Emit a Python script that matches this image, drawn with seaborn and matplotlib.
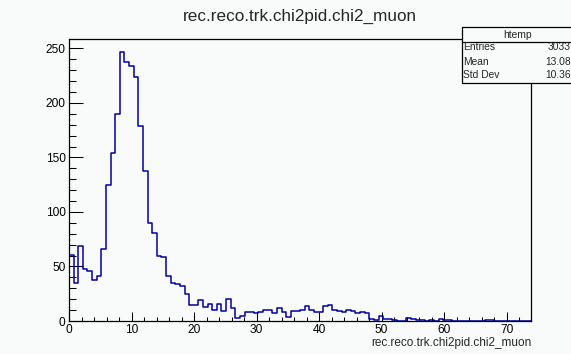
import numpy as np
import pandas as pd
import matplotlib
matplotlib.use("Agg")
import matplotlib.pyplot as plt
import seaborn as sns
from matplotlib.patches import Rectangle
from matplotlib.ticker import MultipleLocator

# ---- data (100 bins on [0, 73.9]) ----
x_low = 0.0
x_high = 73.9
n_bins = 100
counts = [
    61, 35, 69, 48, 46, 38, 41, 66, 125, 154,
    190, 247, 238, 234, 224, 179, 138, 90, 81, 60,
    59, 41, 35, 34, 32, 25, 15, 15, 19, 13,
    16, 10, 16, 9, 20, 12, 3, 5, 8, 8,
    7, 8, 10, 10, 7, 12, 8, 4, 9, 9,
    10, 14, 10, 8, 8, 14, 15, 10, 9, 8,
    10, 9, 7, 8, 7, 2, 1, 5, 2, 2,
    1, 0, 0, 3, 2, 1, 1, 0, 1, 0,
    2, 1, 1, 0, 0, 0, 0, 0, 0, 0,
    1, 1, 0, 0, 0, 0, 0, 0, 0, 0,
]
title = "rec.reco.trk.chi2pid.chi2_muon"
xlabel = "rec.reco.trk.chi2pid.chi2_muon"
stats_name = "htemp"
stats_labels = ["Entries", "Mean", "Std Dev"]
stats_values = ["3033", "13.08", "10.36"]
y_ticks = [0, 50, 100, 150, 200, 250]
x_ticks = [0, 10, 20, 30, 40, 50, 60, 70]

edges = np.linspace(x_low, x_high, n_bins + 1)
centers = 0.5 * (edges[:-1] + edges[1:])
df = pd.DataFrame({"x": centers, "w": counts})

# ---- figure ----
sns.set_style("white")
plt.rcParams["font.family"] = ["Liberation Sans", "DejaVu Sans"]
bg = "#f8fbf9"
W, H = 571, 354
fig = plt.figure(figsize=(W / 100, H / 100), dpi=100, facecolor=bg)
ax = fig.add_axes([69 / W, 1 - 321 / H, (531 - 69) / W, (321 - 39) / H])
ax.set_facecolor(bg)

sns.histplot(data=df, x="x", weights="w", bins=n_bins, binrange=(x_low, x_high),
             element="step", fill=False, color="#0000a0", linewidth=1.1, ax=ax)

ax.set_xlim(x_low, x_high)
ax.set_ylim(0, 258.7)
ax.set_xticks(x_ticks)
ax.set_yticks(y_ticks)
ax.xaxis.set_minor_locator(MultipleLocator(2))
ax.yaxis.set_minor_locator(MultipleLocator(10))
ax.tick_params(axis="both", which="both", direction="in", colors="black",
               width=0.75, labelsize=8.6, top=False, right=False,
               bottom=True, left=True)
ax.tick_params(axis="y", which="major", length=10, pad=2.5)
ax.tick_params(axis="y", which="minor", length=5)
ax.tick_params(axis="x", which="major", length=6.2, pad=2.5)
ax.tick_params(axis="x", which="minor", length=3.2)
for s in ax.spines.values():
    s.set_color("black")
    s.set_linewidth(0.9)
    s.set_zorder(3)

ax.set_ylabel("")
ax.set_xlabel(xlabel, fontsize=8.5, loc="right", labelpad=0.5)

fig.text(300 / W, 1 - 16 / H, title, ha="center", va="center", fontsize=12.3)

# ---- stats box ----
bx0, bx1, by0, by1 = 462, 575, 27, 83
fig.patches.append(Rectangle((bx0 / W, 1 - by1 / H), (bx1 - bx0) / W, (by1 - by0) / H,
                             transform=fig.transFigure, facecolor=bg,
                             edgecolor="black", linewidth=0.9, zorder=5))
fig.lines.append(plt.Line2D([bx0 / W, bx1 / W], [1 - 42 / H, 1 - 42 / H],
                            transform=fig.transFigure, color="black",
                            linewidth=0.9, zorder=6))
fig.text(518 / W, 1 - 34.5 / H, stats_name, ha="center", va="center",
         fontsize=7.4, zorder=7)
row_y = [47.5, 62, 74.5]
for lab, val, yy in zip(stats_labels, stats_values, row_y):
    fig.text(463 / W, 1 - yy / H, lab, ha="left", va="center", fontsize=7.4, zorder=7)
    fig.text(570.5 / W, 1 - yy / H, val, ha="right", va="center", fontsize=7.4, zorder=7)

fig.savefig("out.png", dpi=100, facecolor=bg)
